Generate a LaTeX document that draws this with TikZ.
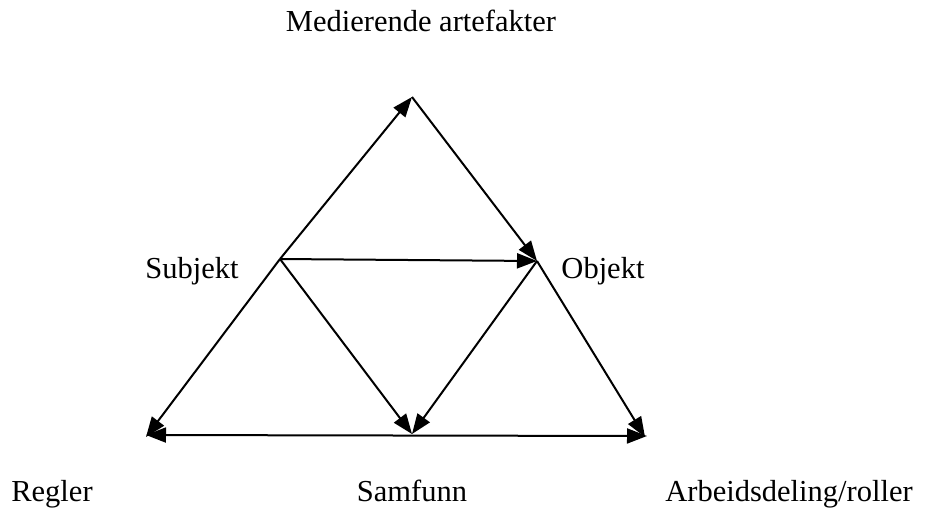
\documentclass[tikz,border=0pt]{standalone}
\usepackage{fontspec}
\setmainfont{Liberation Serif}
\usetikzlibrary{arrows.meta}
\begin{document}
\begin{tikzpicture}[x=1pt,y=-1pt,
  lbl/.style={inner sep=0pt,anchor=base,font=\fontsize{30.5}{36}\selectfont},
  conn/.style={line width=2pt,-{Triangle[length=20pt,width=15pt]}},
  dconn/.style={line width=2pt,{Triangle[length=20pt,width=15pt]}-{Triangle[length=20pt,width=15pt]}}]
\useasboundingbox (0,0) rectangle (927,512);
\coordinate (S) at (280,259);
\coordinate (T) at (412,97);
\coordinate (O) at (537,261);
\coordinate (R) at (146,437);
\coordinate (M) at (412,434);
\coordinate (A) at (645,437);
\draw[conn] (S) -- (T);
\draw[conn] (T) -- (O);
\draw[conn] (S) -- (O);
\draw[conn] (S) -- (R);
\draw[conn] (S) -- (M);
\draw[conn] (O) -- (M);
\draw[conn] (O) -- (A);
\coordinate (BL) at (146,435);
\coordinate (BR) at (647,436);
\draw[dconn] (BL) -- (BR);
\node[lbl] (med) at (421,31) {Medierende artefakter};
\node[lbl] (sub) at (192,278) {Subjekt};
\node[lbl] (obj) at (603,278) {Objekt};
\node[lbl] (reg) at (52,501) {Regler};
\node[lbl] (sam) at (412,501) {Samfunn};
\node[lbl] (arb) at (789,501) {Arbeidsdeling/roller};
\end{tikzpicture}
\end{document}
